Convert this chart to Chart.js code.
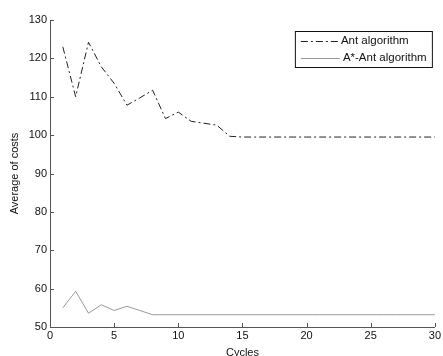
<!DOCTYPE html>
<html>
<head>
<meta charset="utf-8">
<script src="https://cdn.jsdelivr.net/npm/chart.js@4"></script>
<style>
  html, body { margin: 0; padding: 0; background: #fff; }
</style>
</head>
<body>
<canvas id="costChart" width="443" height="356"></canvas>
<script>
const cycles = [1, 2, 3, 4, 5, 6, 7, 8, 9, 10, 11, 12, 13, 14, 15,
  16, 17, 18, 19, 20, 21, 22, 23, 24, 25, 26, 27, 28, 29, 30];
const antCosts = [123, 110, 124.2, 117.8, 113.5, 107.8, 109.7, 111.7, 104.3, 106,
  103.6, 103.1, 102.6, 99.7, 99.5, 99.5, 99.5, 99.5, 99.5, 99.5,
  99.5, 99.5, 99.5, 99.5, 99.5, 99.5, 99.5, 99.5, 99.5, 99.5];
const aStarAntCosts = [55, 59.3, 53.6, 55.8, 54.3, 55.4, 54.3, 53.2, 53.2, 53.2,
  53.2, 53.2, 53.2, 53.2, 53.2, 53.2, 53.2, 53.2, 53.2, 53.2,
  53.2, 53.2, 53.2, 53.2, 53.2, 53.2, 53.2, 53.2, 53.2, 53.2];
const xTickValues = [0, 5, 10, 15, 20, 25, 30];
const yTickValues = [50, 60, 70, 80, 90, 100, 110, 120, 130];
const seriesNames = ["Ant algorithm", "A*-Ant algorithm"];

const fontFamily = "'Liberation Sans', Arial, sans-serif";
const axisColor = "#555";

function toPoints(values) {
  return cycles.map((c, i) => ({ x: c, y: values[i] }));
}

// tick marks pointing into the plot, like the original
const inwardTicks = {
  id: "inwardTicks",
  afterDraw(chart) {
    const { ctx, chartArea, scales } = chart;
    ctx.save();
    ctx.strokeStyle = axisColor;
    ctx.lineWidth = 1;
    ctx.beginPath();
    xTickValues.forEach((v) => {
      const px = Math.round(scales.x.getPixelForValue(v)) + 0.5;
      ctx.moveTo(px, chartArea.bottom);
      ctx.lineTo(px, chartArea.bottom - 4);
    });
    yTickValues.forEach((v) => {
      const py = Math.round(scales.y.getPixelForValue(v)) + 0.5;
      ctx.moveTo(chartArea.left, py);
      ctx.lineTo(chartArea.left + 4, py);
    });
    ctx.stroke();
    ctx.restore();
  }
};

const boxLegend = {
  id: "boxLegend",
  afterDraw(chart) {
    const { ctx, chartArea } = chart;
    const boxRight = chartArea.right - 3;
    const boxLeft = boxRight - 137;
    const boxTop = chartArea.top + 11;
    const boxHeight = 36;

    ctx.save();
    ctx.fillStyle = "#fff";
    ctx.fillRect(boxLeft, boxTop, 137, boxHeight);
    ctx.strokeStyle = "#111";
    ctx.lineWidth = 1;
    ctx.strokeRect(boxLeft + 0.5, boxTop + 0.5, 137, boxHeight);

    ctx.font = "11.5px " + fontFamily;
    ctx.textBaseline = "middle";
    chart.data.datasets.forEach((ds, i) => {
      const rowY = boxTop + 10 + i * 17;
      const lineEnd = boxLeft + (i === 0 ? 43 : 45);
      ctx.strokeStyle = ds.borderColor;
      ctx.setLineDash(ds.borderDash || []);
      ctx.beginPath();
      ctx.moveTo(boxLeft + 6, Math.round(rowY) + 0.5);
      ctx.lineTo(lineEnd, Math.round(rowY) + 0.5);
      ctx.stroke();
      ctx.setLineDash([]);
      ctx.fillStyle = "#111";
      ctx.fillText(ds.label, lineEnd + 3, rowY);
    });
    ctx.restore();
  }
};

new Chart(document.getElementById("costChart"), {
  type: "line",
  data: {
    datasets: [
      {
        label: seriesNames[0],
        data: toPoints(antCosts),
        borderColor: "#222",
        borderWidth: 1,
        borderDash: [7, 3, 2, 3],
        pointRadius: 0,
        tension: 0
      },
      {
        label: seriesNames[1],
        data: toPoints(aStarAntCosts),
        borderColor: "#999",
        borderWidth: 1,
        pointRadius: 0,
        tension: 0
      }
    ]
  },
  options: {
    responsive: false,
    animation: false,
    devicePixelRatio: 1,
    layout: { padding: { top: 20, right: 6, left: 0, bottom: 0 } },
    plugins: {
      legend: { display: false },
      tooltip: { enabled: false }
    },
    scales: {
      x: {
        type: "linear",
        min: 0,
        max: 30,
        afterFit: (scale) => { scale.height = 29; },
        afterBuildTicks: (scale) => {
          scale.ticks = xTickValues.map((v) => ({ value: v }));
        },
        ticks: {
          color: "#111",
          padding: 2,
          maxRotation: 0,
          font: { family: fontFamily, size: 11 }
        },
        grid: { drawOnChartArea: false, drawTicks: false },
        border: { color: axisColor },
        title: {
          display: true,
          text: "Cycles",
          color: "#111",
          padding: { top: 0, bottom: -2 },
          font: { family: fontFamily, size: 11, lineHeight: 1 }
        }
      },
      y: {
        min: 50,
        max: 130,
        afterFit: (scale) => { scale.width = 50; },
        afterBuildTicks: (scale) => {
          scale.ticks = yTickValues.map((v) => ({ value: v }));
        },
        ticks: {
          color: "#111",
          padding: 3,
          font: { family: fontFamily, size: 11 }
        },
        grid: { drawOnChartArea: false, drawTicks: false },
        border: { color: axisColor },
        title: {
          display: true,
          text: "Average of costs",
          color: "#111",
          padding: { top: 8, bottom: 0 },
          font: { family: fontFamily, size: 11 }
        }
      }
    }
  },
  plugins: [inwardTicks, boxLegend]
});
</script>
</body>
</html>
